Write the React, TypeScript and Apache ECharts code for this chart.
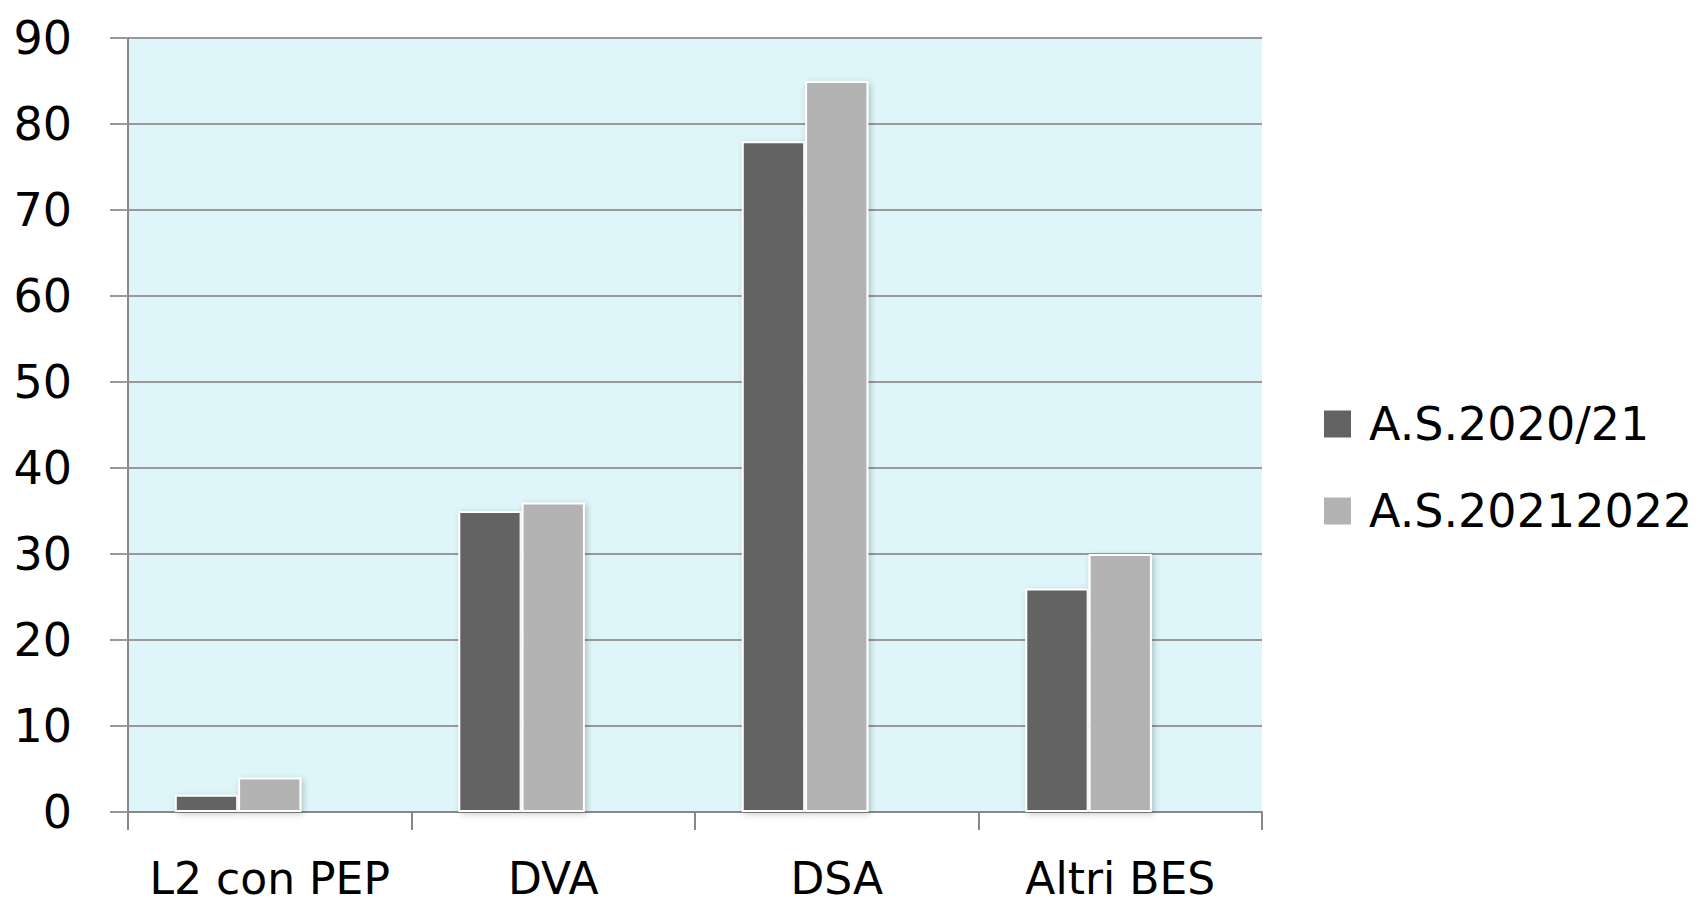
import React, { useEffect, useRef } from "react";
import * as echarts from "echarts";

const categories = ["L2 con PEP", "DVA", "DSA", "Altri BES"];
const series2020 = [2, 35, 78, 26];
const series2021 = [4, 36, 85, 30];
const seriesNames = ["A.S.2020/21", "A.S.20212022"];
const yTicks = [0, 10, 20, 30, 40, 50, 60, 70, 80, 90];

const FONT = "DejaVu Sans";

export default function App() {
  const ref = useRef<HTMLDivElement>(null);
  useEffect(() => {
    document.body.style.margin = "0";
    const chart = echarts.init(ref.current!, null, { renderer: "svg" });
    const barStyle = (color: string) => ({
      color,
      borderColor: "#ffffff",
      borderWidth: 2,
      shadowBlur: 6,
      shadowColor: "rgba(0,0,0,0.22)",
      shadowOffsetX: 2,
      shadowOffsetY: 2,
    });
    chart.setOption({
      animation: false,
      backgroundColor: "#ffffff",
      grid: {
        left: 128,
        right: 442,
        top: 38,
        bottom: 93,
        show: true,
        backgroundColor: "#def5f9",
        borderWidth: 0,
      },
      legend: {
        orient: "vertical",
        left: 1317,
        top: 396,
        itemWidth: 29,
        itemHeight: 29,
        itemGap: 41,
        data: seriesNames,
        icon: "rect",
        textStyle: {
          fontFamily: FONT,
          fontSize: 46,
          color: "#000",
          padding: [0, 0, 0, 12],
        },
      },
      xAxis: {
        type: "category",
        data: categories,
        axisLine: { show: true, lineStyle: { color: "#888", width: 2 } },
        axisTick: { show: true, interval: 0, length: 18, lineStyle: { color: "#888", width: 2 } },
        axisLabel: {
          interval: 0,
          fontFamily: FONT,
          fontSize: 44,
          color: "#000",
          margin: 44,
        },
      },
      yAxis: {
        type: "value",
        min: yTicks[0],
        max: yTicks[yTicks.length - 1],
        interval: 10,
        axisLine: { show: true, lineStyle: { color: "#888", width: 2 } },
        axisTick: { show: true, length: 18, lineStyle: { color: "#999", width: 2 } },
        splitLine: { show: true, lineStyle: { color: "#999", width: 2 } },
        axisLabel: {
          fontFamily: FONT,
          fontSize: 46,
          color: "#000",
          margin: 56,
          verticalAlign: "middle",
        },
      },
      series: [
        {
          name: seriesNames[0],
          type: "bar",
          data: series2020,
          barGap: "0%",
          barCategoryGap: "33%",
          itemStyle: barStyle("#636363"),
        },
        {
          name: seriesNames[1],
          type: "bar",
          data: series2021,
          barGap: "0%",
          barCategoryGap: "33%",
          itemStyle: barStyle("#b3b3b3"),
        },
        {
          name: "empty",
          type: "bar",
          data: [],
          barGap: "0%",
          barCategoryGap: "33%",
        },
      ],
    });
    return () => chart.dispose();
  }, []);
  return (
    <div
      ref={ref}
      style={{ position: "absolute", left: 0, top: 0, width: 1704, height: 905 }}
    />
  );
}
